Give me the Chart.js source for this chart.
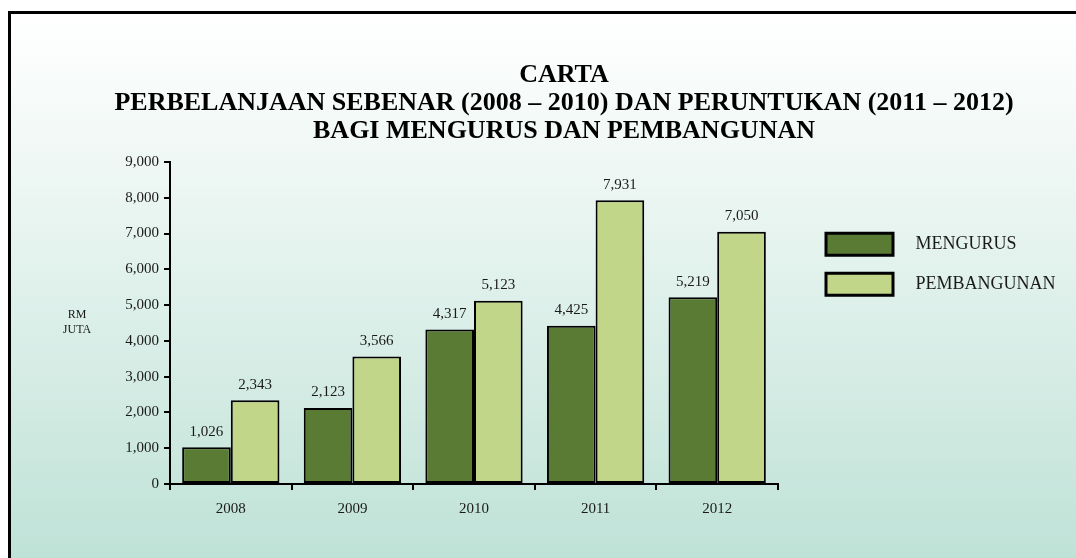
<!DOCTYPE html>
<html>
<head>
<meta charset="utf-8">
<script src="https://cdn.jsdelivr.net/npm/chart.js@4"></script>
<style>
  html, body { margin: 0; padding: 0; background: #fff; }
  canvas { display: block; }
</style>
</head>
<body>
<canvas id="chart" width="1076" height="558"></canvas>
<script>
const years = ["2008", "2009", "2010", "2011", "2012"];
const mengurus = [1026, 2123, 4317, 4425, 5219];
const pembangunan = [2343, 3566, 5123, 7931, 7050];
const seriesNames = ["MENGURUS", "PEMBANGUNAN"];
const titleLines = [
    "CARTA",
    "PERBELANJAAN SEBENAR (2008 \u2013 2010) DAN PERUNTUKAN (2011 \u2013 2012)",
    "BAGI MENGURUS DAN PEMBANGUNAN"
];
const unitLines = ["RM", "JUTA"];

const serif = "'Liberation Serif', 'Times New Roman', serif";

// frame + gradient fill behind everything
const backdrop = {
    id: "backdrop",
    afterLayout(chart) {
        // legend sits 30px right of the plot and may use the rest of the width
        chart.legend.left = chart.chartArea.right + 30;
        chart.legend.right = chart.width;
    },
    beforeDraw(chart) {
        const ctx = chart.ctx;
        ctx.save();
        ctx.fillStyle = "#fff";
        ctx.fillRect(0, 0, chart.width, chart.height);
        const grad = ctx.createLinearGradient(0, 12, 0, chart.height);
        grad.addColorStop(0, "#ffffff");
        grad.addColorStop(0.15, "#f7fbfa");
        grad.addColorStop(1, "#bfe2d7");
        ctx.fillStyle = grad;
        ctx.fillRect(9, 12, chart.width, chart.height);
        ctx.strokeStyle = "#000";
        ctx.lineWidth = 3;
        ctx.strokeRect(9.5, 12.5, chart.width + 20, chart.height + 20);
        ctx.restore();
    }
};

// value labels above the bars and the "RM JUTA" caption
const annotate = {
    id: "annotate",
    afterDatasetsDraw(chart) {
        const ctx = chart.ctx;
        ctx.save();
        ctx.fillStyle = "#1a1a1a";
        ctx.font = "15px " + serif;
        ctx.textAlign = "center";
        ctx.textBaseline = "bottom";
        chart.data.datasets.forEach((ds, i) => {
            chart.getDatasetMeta(i).data.forEach((bar, j) => {
                ctx.fillText(ds.data[j].toLocaleString("en-US"), bar.x, bar.y - 8);
            });
        });
        const y = chart.scales.y;
        ctx.font = "12px " + serif;
        ctx.textBaseline = "middle";
        const cy = (y.top + y.bottom) / 2;
        unitLines.forEach((t, k) => {
            ctx.fillText(t, 77, cy - 8 + k * 15);
        });
        ctx.restore();
    }
};

new Chart(document.getElementById("chart"), {
    type: "bar",
    data: {
        labels: years,
        datasets: [
            {
                label: seriesNames[0],
                data: mengurus,
                backgroundColor: "#5a7b34",
                borderColor: "#000",
                borderWidth: 2,
                borderSkipped: false
            },
            {
                label: seriesNames[1],
                data: pembangunan,
                backgroundColor: "#c2d689",
                borderColor: "#000",
                borderWidth: 2,
                borderSkipped: false
            }
        ]
    },
    options: {
        responsive: false,
        animation: false,
        layout: { padding: { left: 60, right: 8, top: 0, bottom: 30 } },
        datasets: {
            bar: { categoryPercentage: 0.8, barPercentage: 1.0 }
        },
        scales: {
            x: {
                grid: { display: true, offset: true, drawOnChartArea: false, drawTicks: true, tickLength: 6, color: "#000", lineWidth: 2 },
                border: { display: true, color: "#000", width: 2 },
                ticks: { color: "#1a1a1a", padding: 10, font: { family: serif, size: 15 } }
            },
            y: {
                min: 0,
                max: 9000,
                afterFit(scale) { scale.width = 110; },
                grid: { display: true, drawOnChartArea: false, drawTicks: true, tickLength: 6, color: "#000", lineWidth: 2 },
                border: { display: true, color: "#000", width: 2 },
                ticks: {
                    stepSize: 1000,
                    color: "#1a1a1a",
                    padding: 5,
                    font: { family: serif, size: 15 },
                    callback: v => v.toLocaleString("en-US")
                }
            },
            // empty spacer on the right so the plot ends where the original does
            gap: {
                type: "linear",
                position: "right",
                display: true,
                afterFit(scale) { scale.width = 122; },
                grid: { display: false },
                border: { display: false },
                ticks: { display: false }
            }
        },
        plugins: {
            title: {
                display: true,
                text: titleLines,
                color: "#000",
                font: { family: serif, size: 26, weight: "bold", lineHeight: 1.077 },
                padding: { top: 61, bottom: 17 }
            },
            legend: {
                position: "right",
                align: "start",
                fullSize: false,
                maxWidth: 168,
                title: { display: true, text: " ", font: { size: 1 }, padding: { top: 52, bottom: 0 } },
                labels: {
                    boxWidth: 67,
                    boxHeight: 22,
                    padding: 18,
                    color: "#1a1a1a",
                    font: { family: serif, size: 18 },
                    generateLabels(chart) {
                        return Chart.defaults.plugins.legend.labels.generateLabels(chart)
                            .map(item => ({ ...item, lineWidth: 3, text: "   " + item.text }));
                    }
                }
            },
            tooltip: { enabled: false }
        }
    },
    plugins: [backdrop, annotate]
});
</script>
</body>
</html>
